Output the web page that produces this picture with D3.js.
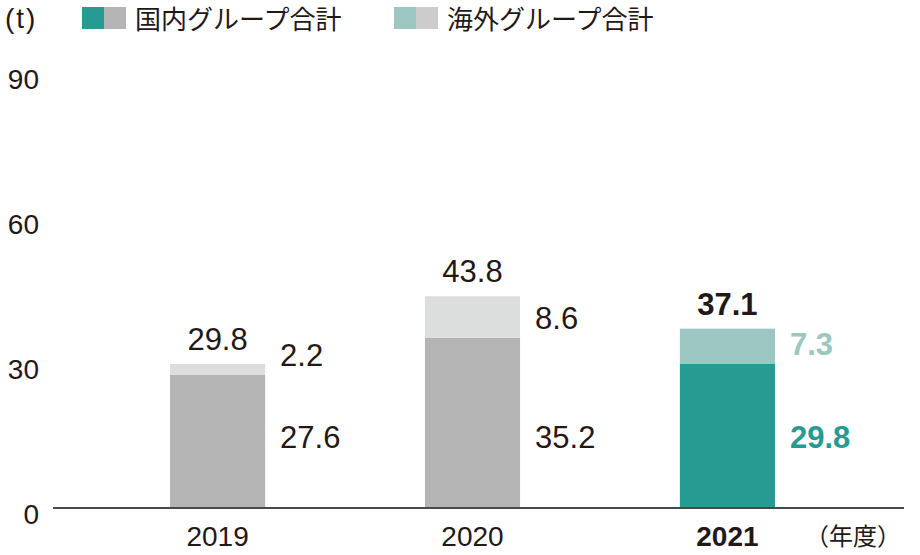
<!DOCTYPE html>
<html>
<head>
<meta charset="utf-8">
<script src="https://cdn.jsdelivr.net/npm/d3@7"></script>
<style>
  body { margin: 0; background: #fff; }
  svg text { fill: #231815; }
  .num { font-family: "Liberation Sans", Arial, sans-serif; }
  .jp { font-family: "Noto Sans CJK JP", sans-serif; }
</style>
</head>
<body>
<svg id="chart" width="920" height="555"></svg>
<script>
const years = ["2019", "2020", "2021"]
const domestic = [27.6, 35.2, 29.8]
const overseas = [2.2, 8.6, 7.3]
const totals = [29.8, 43.8, 37.1]
const y_ticks = [0, 30, 60, 90]
const legend_labels = ["国内グループ合計", "海外グループ合計"]

const teal = "#259b91", teal_light = "#9cc6c1"
const gray = "#b4b4b4", gray_light = "#dcdddd"

const svg = d3.select("#chart")

const x = d3.scaleBand()
    .domain(years)
    .range([52, 893])
    .paddingInner(0.627)
    .paddingOuter(0.463)

const y = d3.scaleLinear()
    .domain([0, 90])
    .range([508, 73])

const last = years[years.length - 1]
const is_last = (d) => d === last

// y tick labels (no gridlines, text sits under the value)
svg.append("g").selectAll("text")
    .data(y_ticks)
    .join("text")
    .attr("class", "num")
    .attr("x", 39)
    .attr("y", d => y(d) + 16)
    .attr("text-anchor", "end")
    .style("font-size", "28px")
    .text(d => d)

// bars
const bars = svg.append("g").selectAll("g")
    .data(years)
    .join("g")

bars.append("rect")
    .attr("x", d => x(d))
    .attr("width", x.bandwidth())
    .attr("y", (d, i) => y(domestic[i]))
    .attr("height", (d, i) => y(0) - y(domestic[i]))
    .attr("fill", d => is_last(d) ? teal : gray)

bars.append("rect")
    .attr("x", d => x(d))
    .attr("width", x.bandwidth())
    .attr("y", (d, i) => y(domestic[i] + overseas[i]))
    .attr("height", (d, i) => y(domestic[i]) - y(domestic[i] + overseas[i]))
    .attr("fill", d => is_last(d) ? teal_light : gray_light)

// totals on top
bars.append("text")
    .attr("class", "num")
    .attr("x", d => x(d) + x.bandwidth() / 2)
    .attr("y", (d, i) => y(totals[i]) - 14)
    .attr("text-anchor", "middle")
    .style("font-size", "31px")
    .style("font-weight", d => is_last(d) ? "bold" : "normal")
    .text((d, i) => totals[i].toFixed(1))

// overseas label right of bar
bars.append("text")
    .attr("class", "num")
    .attr("x", d => x(d) + x.bandwidth() + 15)
    .attr("y", (d, i) => y(domestic[i]) - 9)
    .style("font-size", "31px")
    .style("font-weight", d => is_last(d) ? "bold" : "normal")
    .style("fill", d => is_last(d) ? teal_light : null)
    .text((d, i) => overseas[i].toFixed(1))

// domestic label right of bar
bars.append("text")
    .attr("class", "num")
    .attr("x", d => x(d) + x.bandwidth() + 15)
    .attr("y", y(0) - 60)
    .style("font-size", "31px")
    .style("font-weight", d => is_last(d) ? "bold" : "normal")
    .style("fill", d => is_last(d) ? teal : null)
    .text((d, i) => domestic[i].toFixed(1))

// x axis
svg.append("line")
    .attr("x1", 53).attr("x2", 904)
    .attr("y1", y(0)).attr("y2", y(0))
    .attr("stroke", "#4d4848")
    .attr("stroke-width", 2)

svg.append("g").selectAll("text")
    .data(years)
    .join("text")
    .attr("class", "num")
    .attr("x", d => x(d) + x.bandwidth() / 2)
    .attr("y", 546)
    .attr("text-anchor", "middle")
    .style("font-size", "28px")
    .style("font-weight", d => is_last(d) ? "bold" : "normal")
    .text(d => d)

svg.append("text")
    .attr("class", "jp")
    .attr("x", 805)
    .attr("y", 545)
    .style("font-size", "24px")
    .text("（年度）")

// unit + legend
svg.append("text")
    .attr("class", "num")
    .attr("x", 5)
    .attr("y", 28)
    .style("font-size", "28px")
    .style("letter-spacing", "2px")
    .text("(t)")

const legend_colors = [[teal, gray], ["#9cc6c1", "#cccccc"]]
const legend_x = [82, 394]
legend_labels.forEach((label, i) => {
    const g = svg.append("g").attr("transform", `translate(${legend_x[i]},7)`)
    g.append("rect").attr("width", 22).attr("height", 22).attr("fill", legend_colors[i][0])
    g.append("rect").attr("x", 22).attr("width", 22).attr("height", 22).attr("fill", legend_colors[i][1])
    g.append("text")
        .attr("class", "jp")
        .attr("x", 53)
        .attr("y", 22)
        .style("font-size", "26px")
        .text(label)
})
</script>
</body>
</html>
